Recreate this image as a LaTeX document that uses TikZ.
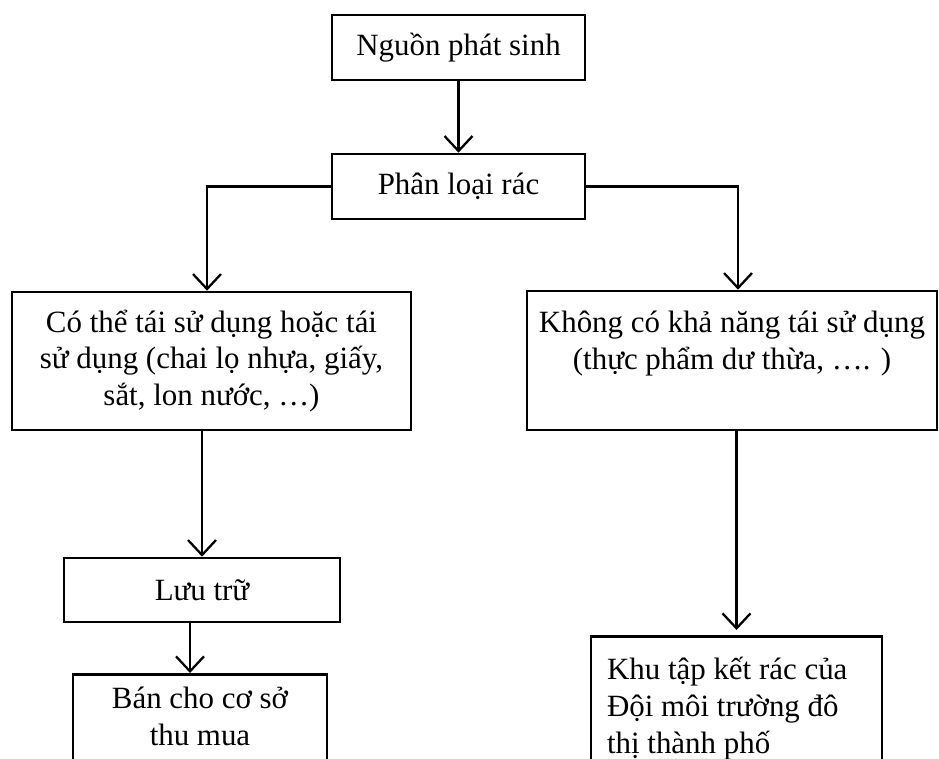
\documentclass[tikz,border=0pt]{standalone}
\usepackage{fontspec}
\setmainfont{Liberation Serif}
\usetikzlibrary{arrows.meta}

\begin{document}
\begin{tikzpicture}[x=0.02cm, y=-0.02cm,
  every node/.style={font=\fontsize{17.6}{21}\selectfont},
  box/.style={draw, line width=1.5pt, align=center},
  link/.style={line width=1.3pt, -{Straight Barb[length=3mm, width=5.6mm, line width=1.3pt]}}]
\useasboundingbox (0,0) rectangle (939,758);
\clip (0,0) rectangle (939,758);
\node[box, minimum width=5.06cm, minimum height=1.3cm] (nguon) at (458.5,47.5) {Nguồn phát sinh};
\node[box, minimum width=5.06cm, minimum height=1.3cm] (phanloai) at (458.5,186.5) {Phân loại rác};
\node[box, minimum width=7.98cm, minimum height=2.76cm] (taiche) at (211.5,361)
  {Có thể tái sử dụng hoặc tái\\sử dụng (chai lọ nhựa, giấy,\\sắt, lon nước, …)};
\node[box, minimum width=8.2cm, minimum height=2.78cm] (khongtai) at (732,360.5)
  {Không có khả năng tái sử dụng\\(thực phẩm dư thừa, …. )\\[-0.15cm]\strut};
\node[box, minimum width=5.52cm, minimum height=1.28cm] (luutru) at (202,590) {Lưu trữ};
\node[box, anchor=north, minimum width=5.08cm, inner ysep=0.25cm] (ban) at (200,673)
  {Bán cho cơ sở\\thu mua\\\strut};
\node[box, anchor=north, text width=5.18cm, inner xsep=0.32cm, align=flush left, inner ysep=0.42cm] (khu) at (736.5,635)
  {Khu tập kết rác của\\Đội môi trường đô\\thị thành phố\\\strut};

\draw[link] (nguon) -- (phanloai);
\draw[link] (phanloai.west) -| ([xshift=-0.09cm]taiche.north);
\draw[link] (phanloai.east) -| ([xshift=0.12cm]khongtai.north);
\draw[link] (luutru.north |- taiche.south) -- (luutru.north);
\draw[link] ([xshift=-0.24cm]luutru.south) -- ([xshift=-0.24cm]luutru.south |- ban.north);
\draw[link] (khongtai.south -| khu.north) -- ([yshift=0.1cm]khu.north);
\end{tikzpicture}
\end{document}
